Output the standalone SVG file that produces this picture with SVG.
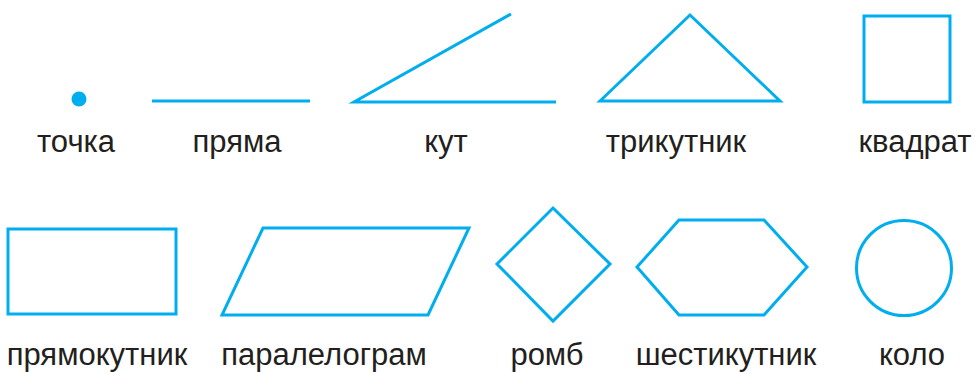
<svg xmlns="http://www.w3.org/2000/svg" width="975" height="372" viewBox="0 0 975 372">
<style>
.s{fill:none;stroke:#00aeef;stroke-width:3;stroke-linejoin:miter}
.t{font-family:"Liberation Sans",Arial,sans-serif;font-size:31px;fill:#231f20;text-anchor:middle}
</style>
<rect width="975" height="372" fill="#fff"/>
<g id="tochka"><circle cx="79" cy="99" r="7.5" fill="#00aeef"/><text class="t" x="76" y="152">точка</text></g>
<g id="pryama"><line class="s" x1="152" y1="101" x2="310" y2="101"/><text class="t" x="237" y="152">пряма</text></g>
<g id="kut"><polyline class="s" points="511,14 354,102 556,102"/><text class="t" x="446" y="152">кут</text></g>
<g id="trykutnyk"><polygon class="s" points="600,101 690,15 780,101"/><text class="t" x="676" y="152">трикутник</text></g>
<g id="kvadrat"><rect class="s" x="864" y="16" width="86" height="86"/><text class="t" x="915" y="152">квадрат</text></g>
<g id="pryamokutnyk"><rect class="s" x="8" y="229" width="168" height="85"/><text class="t" x="97" y="365">прямокутник</text></g>
<g id="paralelogram"><polygon class="s" points="263,228 469,228 428,315 222,315"/><text class="t" x="324" y="365">паралелограм</text></g>
<g id="romb"><polygon class="s" points="553,208 610,264 553,321 497,264"/><text class="t" x="547" y="365">ромб</text></g>
<g id="shestykutnyk"><polygon class="s" points="637,267 679,220 764,220 807,267 764,315 679,315"/><text class="t" x="726" y="365">шестикутник</text></g>
<g id="kolo"><circle class="s" cx="904" cy="268" r="47.5"/><text class="t" x="912" y="365">коло</text></g>
<g id="connectors"/>
</svg>
